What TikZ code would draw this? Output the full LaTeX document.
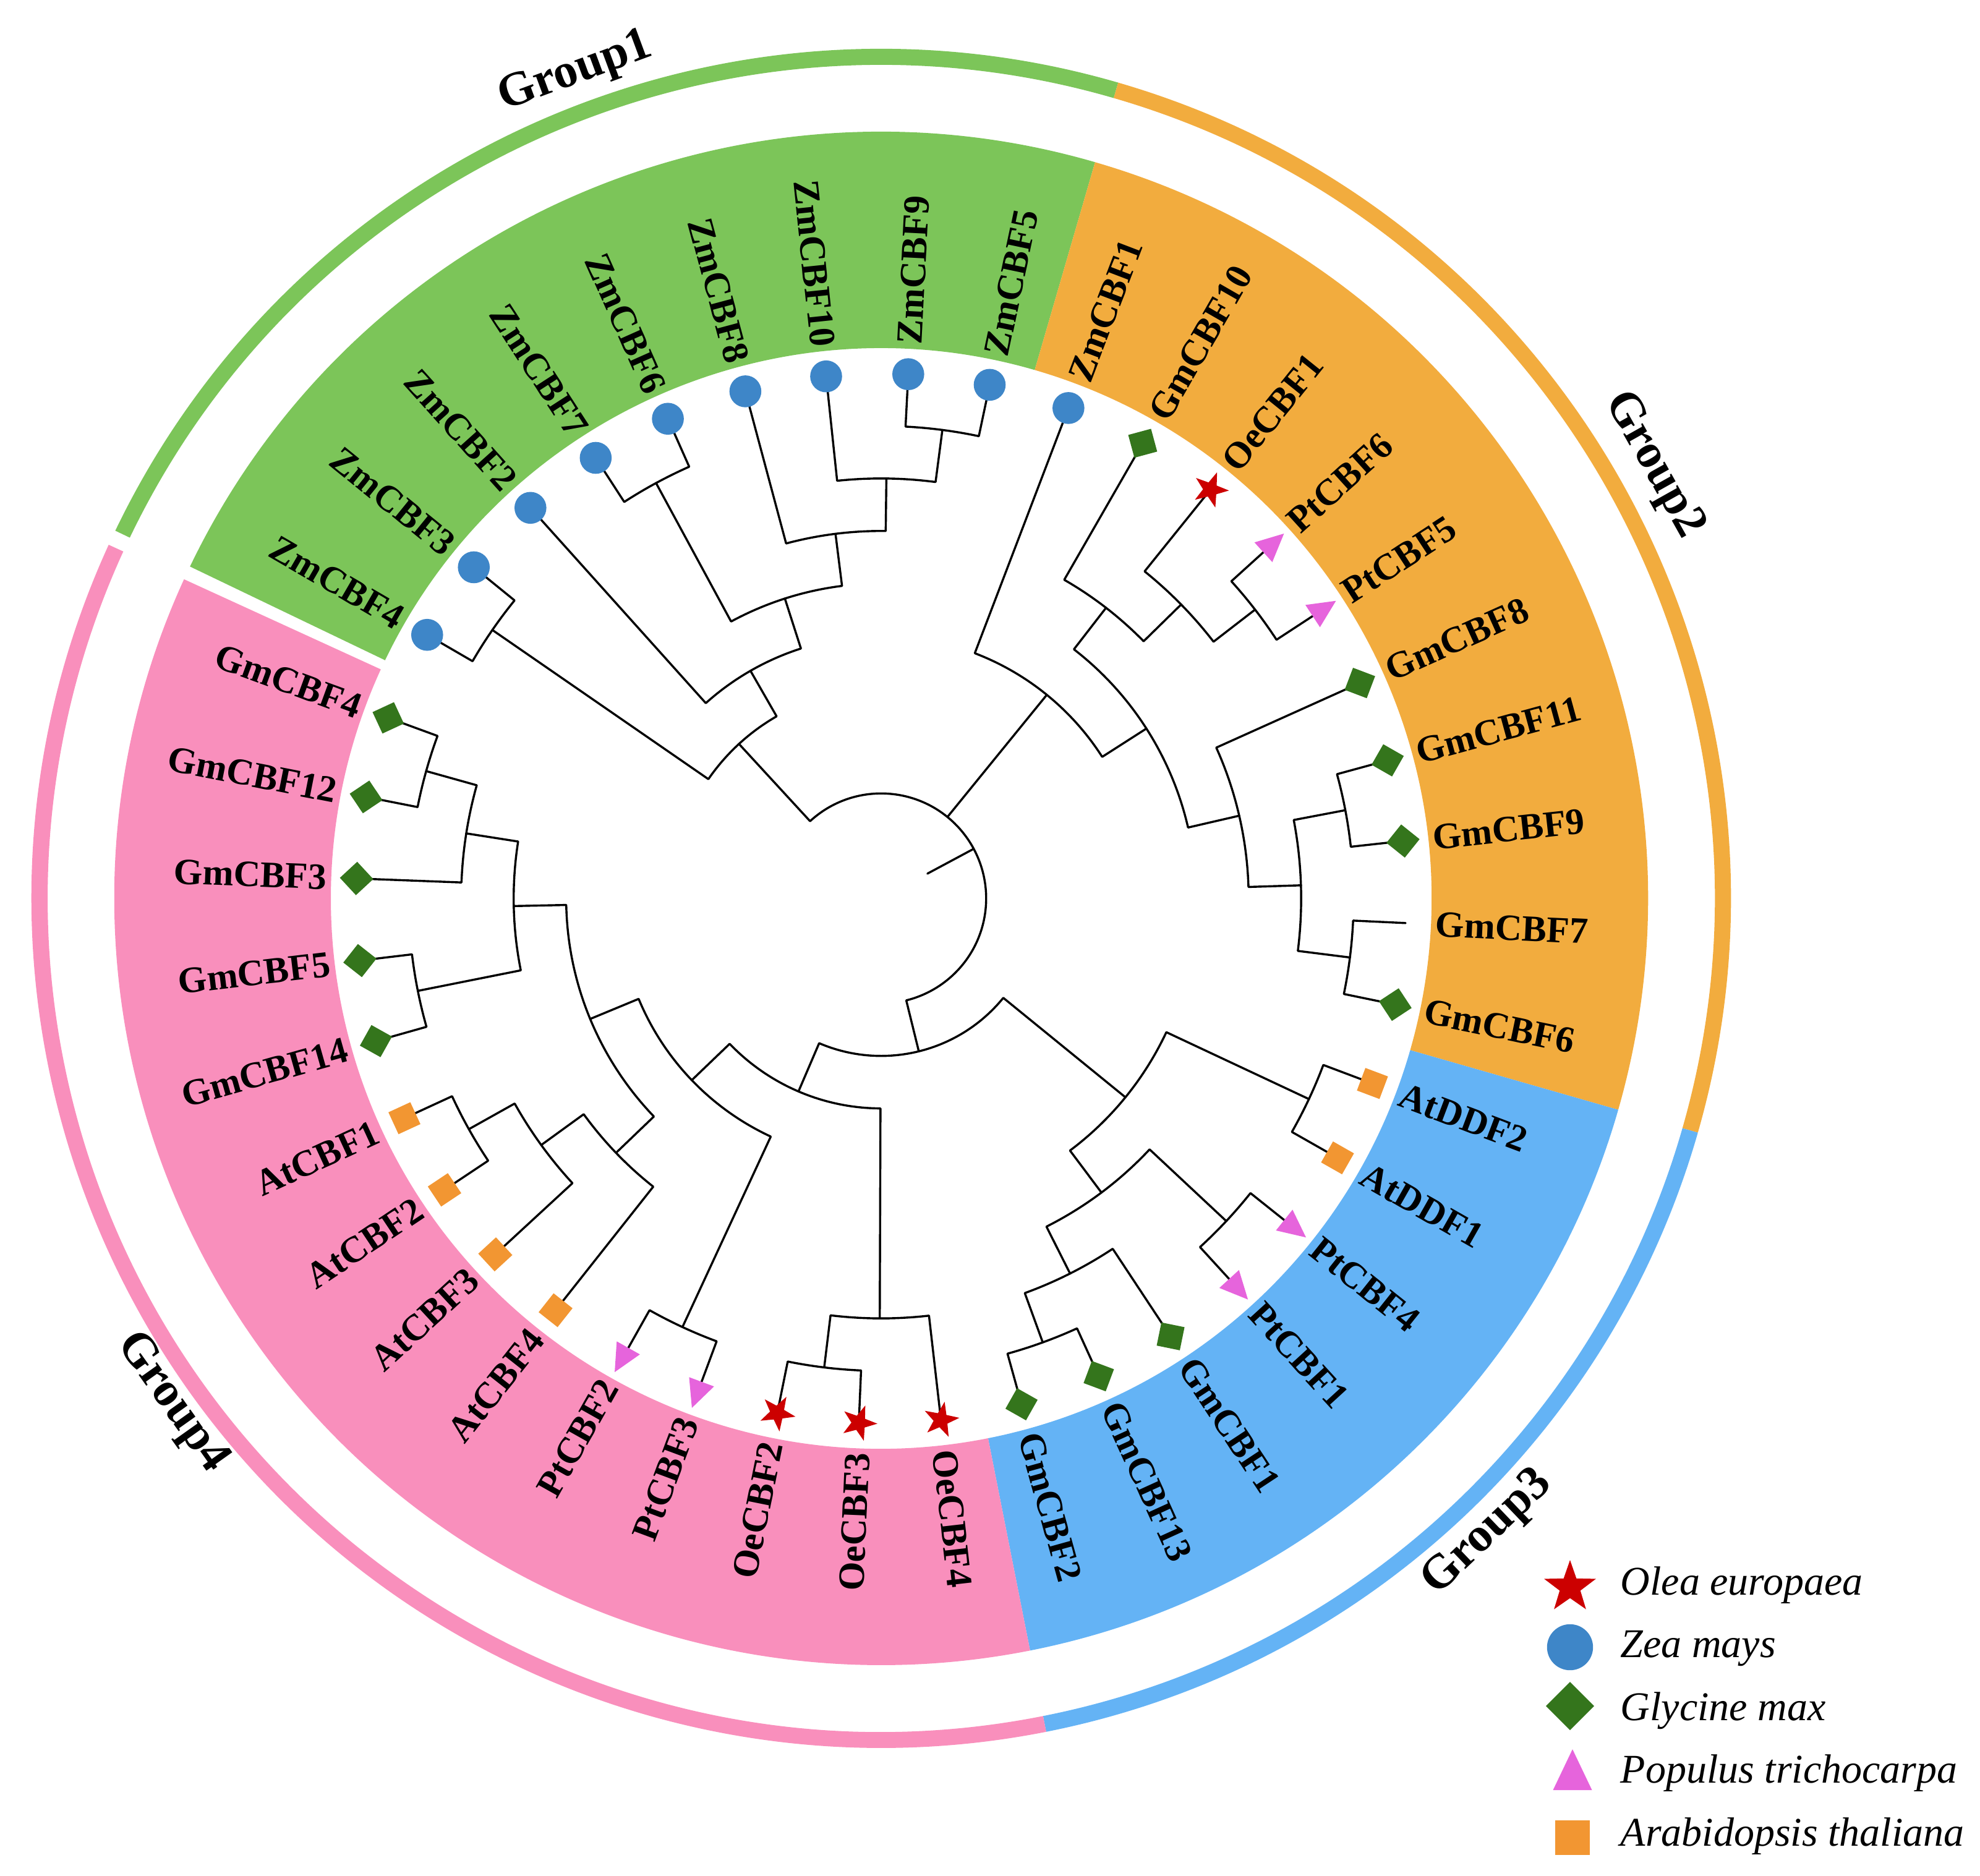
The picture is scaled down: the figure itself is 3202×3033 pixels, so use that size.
\documentclass[tikz,border=0pt]{standalone}
\usepackage{fontspec}
\setmainfont{Liberation Serif}
\definecolor{gG}{HTML}{7CC559}
\definecolor{gO}{HTML}{F2AC3E}
\definecolor{gB}{HTML}{64B3F5}
\definecolor{gP}{HTML}{F98FBC}
\definecolor{czm}{HTML}{3E86C8}
\definecolor{cgm}{HTML}{34751C}
\definecolor{coe}{HTML}{CC0000}
\definecolor{cpt}{HTML}{E664DC}
\definecolor{cat}{HTML}{F29632}
\newcommand{\clade}[5]{\draw[br] (#1:#2) -- (#1:#3) arc[start angle=#1,end angle=#4,radius=#3*0.25pt] -- (#4:#5);}
\newcommand{\sector}[5]{\fill[#1] (#2:#4) arc[start angle=#2,end angle=#3,radius=#4*0.25pt] -- (#3:#5) arc[start angle=#3,end angle=#2,radius=#5*0.25pt] -- cycle;}
\newcommand{\labR}[3]{\node[lab,anchor=west,rotate=#2] (#3) at (#2:897) {#1};}
\newcommand{\labL}[3]{\node[lab,anchor=east,rotate=#2+180] (#3) at (#2:897) {#1};}
\newcommand{\mZm}[1]{\fill[czm] (#1:849) circle[radius=6.45pt];}
\newcommand{\mGm}[1]{\fill[cgm,shift={(#1:849)},rotate=#1] (27,0) -- (0,27) -- (-27,0) -- (0,-27) -- cycle;}
\newcommand{\mAt}[1]{\fill[cat,shift={(#1:849)},rotate=#1] (-19.5,-19.5) rectangle (19.5,19.5);}
\newcommand{\mPt}[1]{\fill[cpt,shift={(#1:849)},rotate=#1] (30,0) -- (-15,21.5) -- (-15,-21.5) -- cycle;}
\newcommand{\starpath}[1]{(90:#1) -- (126:0.4*#1) -- (162:#1) -- (198:0.4*#1) -- (234:#1) -- (270:0.4*#1) -- (306:#1) -- (342:0.4*#1) -- (18:#1) -- (54:0.4*#1) -- cycle}
\newcommand{\mOe}[1]{\fill[coe,shift={(#1:849)},rotate=#1] \starpath{30};}
\begin{document}
\begin{tikzpicture}[x=0.25pt,y=0.25pt,
  br/.style={line width=0.85pt,line join=round,line cap=round},
  lab/.style={inner sep=0pt,font=\fontsize{15}{15}\selectfont\bfseries},
  grp/.style={inner sep=0pt,font=\fontsize{19.5}{19.5}\selectfont\bfseries},
  leg/.style={inner sep=0pt,anchor=base west,font=\fontsize{16.5}{16.5}\selectfont\itshape}]
\useasboundingbox (-1425,-1580) rectangle (1777,1453);
% label band sectors
\sector{gG}{154.35}{73.8}{890}{1240}
\sector{gO}{73.8}{-16.0}{890}{1240}
\sector{gB}{-16.0}{-78.8}{890}{1240}
\sector{gP}{-78.8}{-204.6}{890}{1240}
% outer group ring
\sector{gG}{154.35}{73.8}{1348}{1374}
\sector{gO}{73.8}{-16.0}{1348}{1374}
\sector{gB}{-16.0}{-78.8}{1348}{1374}
\sector{gP}{-78.8}{-204.6}{1348}{1374}
% tree: group 1
\clade{149.86}{849}{764.1}{140.89}{849}
\clade{87.04}{849}{764.1}{78.07}{849}
\clade{96.02}{849}{679.2}{82.555}{764.1}
\clade{104.99}{849}{594.3}{89.29}{679.2}
\clade{122.94}{849}{764.1}{113.97}{849}
\clade{118.455}{764.1}{509.4}{97.14}{594.3}
\clade{131.92}{849}{424.5}{107.80}{509.4}
\clade{145.375}{764.1}{339.6}{119.86}{424.5}
% group 2
\clade{42.17}{849}{764.1}{33.20}{849}
\clade{51.15}{849}{679.2}{37.685}{764.1}
\clade{60.12}{849}{594.3}{44.42}{679.2}
\clade{15.25}{849}{764.1}{6.28}{849}
\clade{-2.69}{849}{764.1}{-11.67}{849}
\clade{10.765}{764.1}{679.2}{-7.18}{764.1}
\clade{24.23}{849}{594.3}{1.79}{679.2}
\clade{52.27}{594.3}{509.4}{13.01}{594.3}
\clade{69.10}{849}{424.5}{32.64}{509.4}
% group 3
\clade{-20.64}{849}{764.1}{-29.62}{849}
\clade{-38.59}{849}{764.1}{-47.56}{849}
\clade{-65.51}{849}{764.1}{-74.49}{849}
\clade{-56.54}{849}{679.2}{-70.0}{764.1}
\clade{-43.075}{764.1}{594.3}{-63.27}{679.2}
\clade{-25.13}{764.1}{509.4}{-53.17}{594.3}
% group 4
\clade{-92.44}{849}{764.1}{-101.41}{849}
\clade{-83.46}{849}{679.2}{-96.925}{764.1}
\clade{-110.38}{849}{764.1}{-119.36}{849}
\clade{-146.28}{849}{764.1}{-155.25}{849}
\clade{-137.31}{849}{679.2}{-150.765}{764.1}
\clade{-128.33}{849}{594.3}{-144.04}{679.2}
\clade{-164.23}{849}{764.1}{-173.20}{849}
\clade{-191.15}{849}{764.1}{-200.12}{849}
\clade{-182.18}{849}{679.2}{-195.635}{764.1}
\clade{-168.715}{764.1}{594.3}{-188.91}{679.2}
\clade{-136.18}{594.3}{509.4}{-178.81}{594.3}
\clade{-114.87}{764.1}{424.5}{-157.50}{509.4}
\clade{-90.19}{679.2}{339.6}{-136.18}{424.5}
\clade{-39.15}{509.4}{254.7}{-113.19}{339.6}
% root
\clade{132.62}{339.6}{169.8}{-76.17}{254.7}
\draw[br] (50.87:169.8) -- (50.87:424.5);
\draw[br] (28.2:84.9) -- (28.2:169.8);
% tip markers
\mZm{149.86}\mZm{140.89}\mZm{131.92}\mZm{122.94}\mZm{113.97}
\mZm{104.99}\mZm{96.02}\mZm{87.04}\mZm{78.07}\mZm{69.10}
\mGm{60.12}\mOe{51.15}\mPt{42.17}\mPt{33.20}\mGm{24.23}
\mGm{15.25}\mGm{6.28}\mGm{-11.67}
\mAt{-20.64}\mAt{-29.62}\mPt{-38.59}\mPt{-47.56}
\mGm{-56.54}\mGm{-65.51}\mGm{-74.49}
\mOe{-83.46}\mOe{-92.44}\mOe{-101.41}\mPt{-110.38}\mPt{-119.36}
\mAt{-128.33}\mAt{-137.31}\mAt{-146.28}\mAt{-155.25}
\mGm{-164.23}\mGm{-173.20}\mGm{-182.18}\mGm{-191.15}\mGm{-200.12}
% tip labels
\labL{ZmCBF4}{149.86}{t0}
\labL{ZmCBF3}{140.89}{t1}
\labL{ZmCBF2}{131.92}{t2}
\labL{ZmCBF7}{122.94}{t3}
\labL{ZmCBF6}{113.97}{t4}
\labL{ZmCBF8}{104.99}{t5}
\labL{ZmCBF10}{96.02}{t6}
\labR{ZmCBF9}{87.04}{t7}
\labR{ZmCBF5}{78.07}{t8}
\labR{ZmCBF1}{69.10}{t9}
\labR{GmCBF10}{60.12}{t10}
\labR{OeCBF1}{51.15}{t11}
\labR{PtCBF6}{42.17}{t12}
\labR{PtCBF5}{33.20}{t13}
\labR{GmCBF8}{24.23}{t14}
\labR{GmCBF11}{15.25}{t15}
\labR{GmCBF9}{6.28}{t16}
\labR{GmCBF7}{-2.69}{t17}
\labR{GmCBF6}{-11.67}{t18}
\labR{AtDDF2}{-20.64}{t19}
\labR{AtDDF1}{-29.62}{t20}
\labR{PtCBF4}{-38.59}{t21}
\labR{PtCBF1}{-47.56}{t22}
\labR{GmCBF1}{-56.54}{t23}
\labR{GmCBF13}{-65.51}{t24}
\labR{GmCBF2}{-74.49}{t25}
\labR{OeCBF4}{-83.46}{t26}
\labL{OeCBF3}{-92.44}{t27}
\labL{OeCBF2}{-101.41}{t28}
\labL{PtCBF3}{-110.38}{t29}
\labL{PtCBF2}{-119.36}{t30}
\labL{AtCBF4}{-128.33}{t31}
\labL{AtCBF3}{-137.31}{t32}
\labL{AtCBF2}{-146.28}{t33}
\labL{AtCBF1}{-155.25}{t34}
\labL{GmCBF14}{-164.23}{t35}
\labL{GmCBF5}{-173.20}{t36}
\labL{GmCBF3}{-182.18}{t37}
\labL{GmCBF12}{-191.15}{t38}
\labL{GmCBF4}{-200.12}{t39}
% group labels
\node[grp,rotate=20.3] (g1) at (110.3:1424) {Group1};
\node[grp,rotate=-60.7] (g2) at (29.3:1432) {Group2};
\node[grp,rotate=43.7] (g3) at (-46.3:1420) {Group3};
\node[grp,rotate=-54.6] (g4) at (215.4:1408) {Group4};
% legend
\fill[coe,shift={(1114,-1114)}] \starpath{44};
\fill[czm] (1114,-1211) circle[radius=9.3pt];
\fill[cgm] (1114,-1267) -- (1153,-1306) -- (1114,-1345) -- (1075,-1306) -- cycle;
\fill[cpt] (1118,-1376) -- (1149.5,-1442) -- (1086.5,-1442) -- cycle;
\fill[cat] (1090,-1547) rectangle (1146,-1491);
\node[leg] (lg1) at (1195,-1126) {Olea europaea};
\node[leg] (lg2) at (1195,-1227) {Zea mays};
\node[leg] (lg3) at (1195,-1329) {Glycine max};
\node[leg] (lg4) at (1195,-1430) {Populus trichocarpa};
\node[leg] (lg5) at (1195,-1532) {Arabidopsis thaliana};
\end{tikzpicture}
\end{document}
